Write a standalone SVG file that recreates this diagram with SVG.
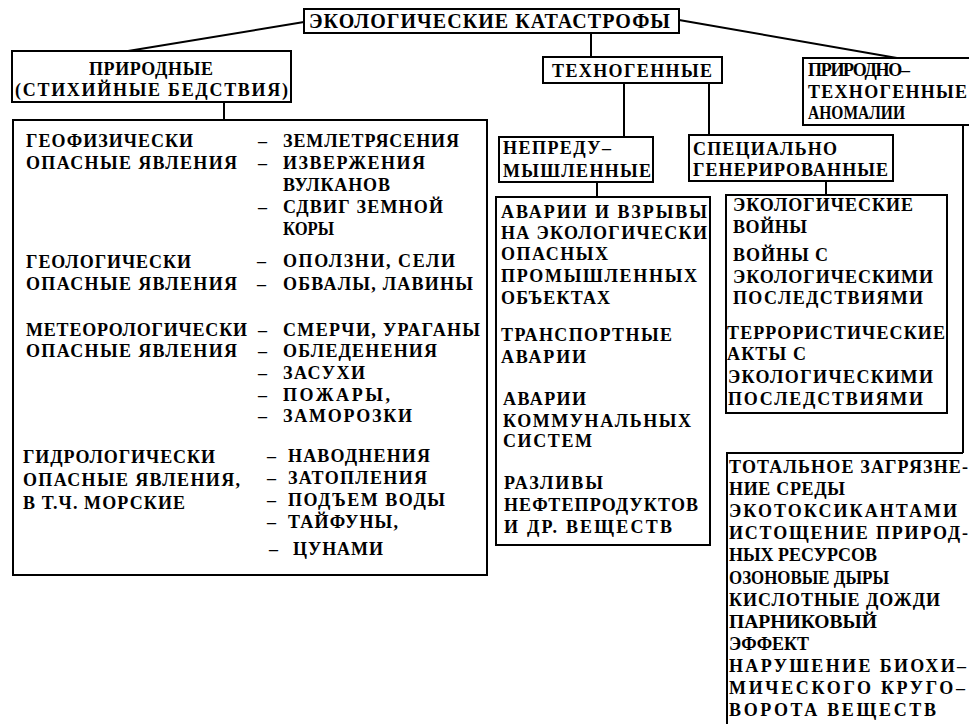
<svg xmlns="http://www.w3.org/2000/svg" width="969" height="724" viewBox="0 0 969 724">
<style>
.bg{fill:#fff}
.box{fill:#fff;stroke:#000;stroke-width:2}
.ln{fill:none;stroke:#000;stroke-width:2}
text{font-family:"Liberation Serif","DejaVu Serif",serif;font-weight:bold;font-size:18px;fill:#000}
.big{font-size:20px}
</style>
<rect class="bg" x="0" y="0" width="969" height="724"/>
<g id="connectors">
<line class="ln" x1="304" y1="22" x2="128" y2="51"/>
<line class="ln" x1="679" y1="20" x2="897" y2="58"/>
<line class="ln" x1="591" y1="33" x2="591" y2="57"/>
<line class="ln" x1="224" y1="102" x2="224" y2="120"/>
<line class="ln" x1="624" y1="83" x2="624" y2="137"/>
<line class="ln" x1="709" y1="83" x2="709" y2="135"/>
<line class="ln" x1="597" y1="182" x2="597" y2="197"/>
<line class="ln" x1="826" y1="181" x2="826" y2="195"/>
<line class="ln" x1="963" y1="125" x2="963" y2="453"/>
</g>
<g id="root">
<rect class="box" x="304" y="9" width="375" height="24"/>
<text class="big" x="309" y="28" textLength="361" lengthAdjust="spacing">ЭКОЛОГИЧЕСКИЕ КАТАСТРОФЫ</text>
</g>
<g id="natural">
<rect class="box" x="12" y="51" width="279" height="51"/>
<text x="89" y="75" textLength="124" lengthAdjust="spacing">ПРИРОДНЫЕ</text>
<text x="15" y="96" textLength="273" lengthAdjust="spacing">(СТИХИЙНЫЕ БЕДСТВИЯ)</text>
</g>
<g id="technogenic">
<rect class="box" x="543" y="57" width="179" height="26"/>
<text x="552" y="77" textLength="160" lengthAdjust="spacing">ТЕХНОГЕННЫЕ</text>
</g>
<g id="natural-technogenic">
<rect class="box" x="803" y="58" width="180" height="67"/>
<text x="808" y="76" textLength="102" lengthAdjust="spacing">ПРИРОДНО–</text>
<text x="808" y="98" textLength="159" lengthAdjust="spacing">ТЕХНОГЕННЫЕ</text>
<text x="808" y="119" textLength="97" lengthAdjust="spacingAndGlyphs">АНОМАЛИИ</text>
</g>
<g id="natural-list">
<rect class="box" x="13" y="120" width="474" height="455"/>
<text x="26" y="147" textLength="167" lengthAdjust="spacing">ГЕОФИЗИЧЕСКИ</text>
<text x="26" y="169" textLength="211" lengthAdjust="spacing">ОПАСНЫЕ ЯВЛЕНИЯ</text>
<text x="258" y="147">–</text><text x="283" y="147" textLength="176" lengthAdjust="spacing">ЗЕМЛЕТРЯСЕНИЯ</text>
<text x="258" y="169">–</text><text x="283" y="169" textLength="142" lengthAdjust="spacing">ИЗВЕРЖЕНИЯ</text>
<text x="283" y="191" textLength="107" lengthAdjust="spacing">ВУЛКАНОВ</text>
<text x="258" y="213">–</text><text x="283" y="213" textLength="160" lengthAdjust="spacing">СДВИГ ЗЕМНОЙ</text>
<text x="283" y="235" textLength="51" lengthAdjust="spacingAndGlyphs">КОРЫ</text>
<text x="26" y="268" textLength="165" lengthAdjust="spacing">ГЕОЛОГИЧЕСКИ</text>
<text x="26" y="290" textLength="211" lengthAdjust="spacing">ОПАСНЫЕ ЯВЛЕНИЯ</text>
<text x="257" y="267">–</text><text x="283" y="267" textLength="172" lengthAdjust="spacing">ОПОЛЗНИ, СЕЛИ</text>
<text x="257" y="290">–</text><text x="283" y="290" textLength="190" lengthAdjust="spacing">ОБВАЛЫ, ЛАВИНЫ</text>
<text x="26" y="336" textLength="221" lengthAdjust="spacing">МЕТЕОРОЛОГИЧЕСКИ</text>
<text x="26" y="357" textLength="211" lengthAdjust="spacing">ОПАСНЫЕ ЯВЛЕНИЯ</text>
<text x="258" y="336">–</text><text x="283" y="336" textLength="197" lengthAdjust="spacing">СМЕРЧИ, УРАГАНЫ</text>
<text x="258" y="357">–</text><text x="283" y="357" textLength="154" lengthAdjust="spacing">ОБЛЕДЕНЕНИЯ</text>
<text x="258" y="379">–</text><text x="283" y="379" textLength="82" lengthAdjust="spacing">ЗАСУХИ</text>
<text x="258" y="401">–</text><text x="283" y="401" textLength="107" lengthAdjust="spacing">ПОЖАРЫ,</text>
<text x="258" y="422">–</text><text x="283" y="422" textLength="129" lengthAdjust="spacing">ЗАМОРОЗКИ</text>
<text x="23" y="463" textLength="192" lengthAdjust="spacing">ГИДРОЛОГИЧЕСКИ</text>
<text x="23" y="486" textLength="217" lengthAdjust="spacing">ОПАСНЫЕ ЯВЛЕНИЯ,</text>
<text x="23" y="509" textLength="162" lengthAdjust="spacing">В Т.Ч. МОРСКИЕ</text>
<text x="267" y="462">–</text><text x="288" y="462" textLength="142" lengthAdjust="spacing">НАВОДНЕНИЯ</text>
<text x="267" y="484">–</text><text x="288" y="484" textLength="139" lengthAdjust="spacing">ЗАТОПЛЕНИЯ</text>
<text x="267" y="506">–</text><text x="288" y="506" textLength="157" lengthAdjust="spacing">ПОДЪЕМ ВОДЫ</text>
<text x="267" y="528">–</text><text x="288" y="528" textLength="110" lengthAdjust="spacing">ТАЙФУНЫ,</text>
<text x="269" y="555">–</text><text x="293" y="555" textLength="90" lengthAdjust="spacing">ЦУНАМИ</text>
</g>
<g id="unintended">
<rect class="box" x="499" y="137" width="154" height="45"/>
<text x="503" y="154" textLength="108" lengthAdjust="spacing">НЕПРЕДУ–</text>
<text x="503" y="177" textLength="148" lengthAdjust="spacing">МЫШЛЕННЫЕ</text>
</g>
<g id="unintended-list">
<rect class="box" x="496" y="197" width="214" height="348"/>
<text x="501" y="218" textLength="206" lengthAdjust="spacing">АВАРИИ И ВЗРЫВЫ</text>
<text x="501" y="239" textLength="206" lengthAdjust="spacing">НА ЭКОЛОГИЧЕСКИ</text>
<text x="501" y="260" textLength="107" lengthAdjust="spacing">ОПАСНЫХ</text>
<text x="501" y="282" textLength="196" lengthAdjust="spacing">ПРОМЫШЛЕННЫХ</text>
<text x="501" y="304" textLength="109" lengthAdjust="spacing">ОБЪЕКТАХ</text>
<text x="501" y="341" textLength="171" lengthAdjust="spacing">ТРАНСПОРТНЫЕ</text>
<text x="501" y="363" textLength="85" lengthAdjust="spacing">АВАРИИ</text>
<text x="503" y="405" textLength="83" lengthAdjust="spacing">АВАРИИ</text>
<text x="503" y="427" textLength="188" lengthAdjust="spacing">КОММУНАЛЬНЫХ</text>
<text x="503" y="447" textLength="89" lengthAdjust="spacing">СИСТЕМ</text>
<text x="504" y="489" textLength="99" lengthAdjust="spacing">РАЗЛИВЫ</text>
<text x="504" y="511" textLength="194" lengthAdjust="spacing">НЕФТЕПРОДУКТОВ</text>
<text x="504" y="533" textLength="168" lengthAdjust="spacing">И ДР. ВЕЩЕСТВ</text>
</g>
<g id="special">
<rect class="box" x="689" y="135" width="204" height="46"/>
<text x="693" y="155" textLength="144" lengthAdjust="spacing">СПЕЦИАЛЬНО</text>
<text x="693" y="176" textLength="195" lengthAdjust="spacing">ГЕНЕРИРОВАННЫЕ</text>
</g>
<g id="special-list">
<rect class="box" x="726" y="195" width="221" height="218"/>
<text x="733" y="211" textLength="180" lengthAdjust="spacing">ЭКОЛОГИЧЕСКИЕ</text>
<text x="733" y="233" textLength="74" lengthAdjust="spacing">ВОЙНЫ</text>
<text x="733" y="261" textLength="95" lengthAdjust="spacing">ВОЙНЫ С</text>
<text x="733" y="283" textLength="200" lengthAdjust="spacing">ЭКОЛОГИЧЕСКИМИ</text>
<text x="733" y="304" textLength="190" lengthAdjust="spacing">ПОСЛЕДСТВИЯМИ</text>
<text x="727" y="339" textLength="218" lengthAdjust="spacing">ТЕРРОРИСТИЧЕСКИЕ</text>
<text x="727" y="360" textLength="79" lengthAdjust="spacing">АКТЫ С</text>
<text x="728" y="383" textLength="205" lengthAdjust="spacing">ЭКОЛОГИЧЕСКИМИ</text>
<text x="728" y="405" textLength="195" lengthAdjust="spacing">ПОСЛЕДСТВИЯМИ</text>
</g>
<g id="anomalies-list">
<path class="ln" d="M963,453 H727 V730"/>
<text x="729" y="473" textLength="239" lengthAdjust="spacing">ТОТАЛЬНОЕ ЗАГРЯЗНЕ-</text>
<text x="729" y="495" textLength="116" lengthAdjust="spacing">НИЕ СРЕДЫ</text>
<text x="729" y="517" textLength="228" lengthAdjust="spacing">ЭКОТОКСИКАНТАМИ</text>
<text x="729" y="539" textLength="239" lengthAdjust="spacing">ИСТОЩЕНИЕ ПРИРОД-</text>
<text x="729" y="561" textLength="148" lengthAdjust="spacingAndGlyphs">НЫХ РЕСУРСОВ</text>
<text x="729" y="584" textLength="160" lengthAdjust="spacingAndGlyphs">ОЗОНОВЫЕ ДЫРЫ</text>
<text x="729" y="606" textLength="211" lengthAdjust="spacing">КИСЛОТНЫЕ ДОЖДИ</text>
<text x="729" y="628" textLength="148" lengthAdjust="spacingAndGlyphs">ПАРНИКОВЫЙ</text>
<text x="729" y="650" textLength="80" lengthAdjust="spacingAndGlyphs">ЭФФЕКТ</text>
<text x="729" y="672" textLength="237" lengthAdjust="spacing">НАРУШЕНИЕ БИОХИ–</text>
<text x="729" y="694" textLength="236" lengthAdjust="spacing">МИЧЕСКОГО КРУГО–</text>
<text x="729" y="716" textLength="207" lengthAdjust="spacing">ВОРОТА ВЕЩЕСТВ</text>
</g>
</svg>
